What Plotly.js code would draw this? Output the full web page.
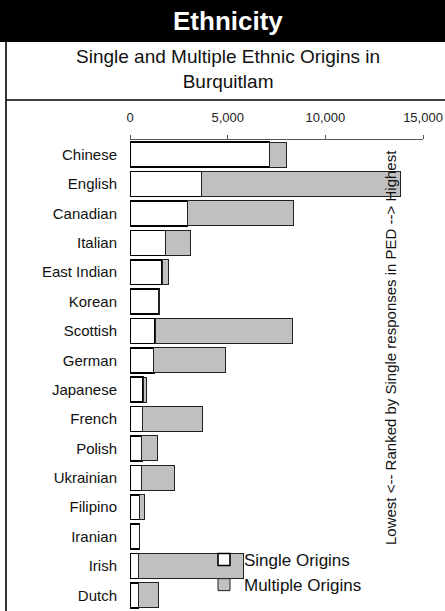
<!DOCTYPE html>
<html>
<head>
<meta charset="utf-8">
<script src="https://cdn.plot.ly/plotly-3.0.1.min.js"></script>
<style>html,body{margin:0;padding:0;background:#fff;}#chart{width:445px;height:611px;}</style>
</head>
<body>
<div id="chart"></div>
<script>
const categories = ["Chinese","English","Canadian","Italian","East Indian","Korean","Scottish","German","Japanese","French","Polish","Ukrainian","Filipino","Iranian","Irish","Dutch"];
const singleOrigins   = [7150, 3650, 2950, 1820, 1650, 1480, 1290, 1220, 680, 650, 610, 590, 500, 490, 450, 440];
const multipleOrigins = [850, 10200, 5400, 1280, 340, 15, 7040, 3660, 140, 3070, 790, 1700, 220, 20, 5370, 1030];
const tickValues = [0, 5000, 10000, 15000];
const tickLabels = ["0", "5,000", "10,000", "15,000"];
const seriesNames = ["Single Origins", "Multiple Origins"];
const titleText = "Ethnicity";
const subtitleText = "Single and Multiple Ethnic Origins in<br>Burquitlam";
const sideText = "Lowest <-- Ranked by Single responses in PED --> Highest";

const W = 445, H = 611, L = 130, R = 22, T = 140, B = 1;
const PW = W - L - R, PH = H - T - B;
const px = x => (x - L) / PW;
const py = y => (H - B - y) / PH;
const FONT = "Liberation Sans, Arial, Helvetica, sans-serif";

const traces = [
  {
    type: "bar", orientation: "h", name: seriesNames[0],
    y: categories, x: singleOrigins,
    marker: {color: "#ffffff", line: {color: "#000000", width: 1.6}},
    hoverinfo: "x+y"
  },
  {
    type: "bar", orientation: "h", name: seriesNames[1],
    y: categories, x: multipleOrigins,
    marker: {color: "#c0c0c0", line: {color: "#222222", width: 1}},
    hoverinfo: "x+y"
  }
];

const layout = {
  width: W, height: H,
  margin: {l: L, r: R, t: T, b: B, pad: 0},
  paper_bgcolor: "#ffffff", plot_bgcolor: "rgba(0,0,0,0)",
  barmode: "stack", bargap: 0.15,
  font: {family: FONT, color: "#222222", size: 15},
  showlegend: true,
  legend: {
    x: px(204), y: py(572.5), xanchor: "left", yanchor: "middle",
    bgcolor: "rgba(0,0,0,0)", borderwidth: 0, traceorder: "normal",
    font: {family: FONT, size: 17, color: "#111111"},
    itemclick: false, itemdoubleclick: false, tracegroupgap: 0
  },
  xaxis: {
    side: "top", range: [0, 15000], fixedrange: true,
    tickvals: tickValues, ticktext: tickLabels,
    ticks: "outside", ticklen: 4, tickcolor: "#555555", tickwidth: 1,
    showline: true, linecolor: "#555555", linewidth: 1.2,
    showgrid: false, zeroline: false,
    tickfont: {family: FONT, size: 13, color: "#222222"},
    ticklabelstandoff: 8
  },
  yaxis: {
    type: "category", autorange: "reversed", fixedrange: true,
    showline: false, showgrid: false, zeroline: false, ticks: "",
    tickfont: {family: FONT, size: 15, color: "#111111"},
    ticklabelstandoff: 12
  },
  shapes: [
    {type: "rect", xref: "paper", yref: "paper", x0: px(0), x1: px(W), y0: py(42), y1: py(0), fillcolor: "#000000", line: {width: 0}},
    {type: "line", xref: "paper", yref: "paper", x0: px(6), x1: px(6), y0: py(H), y1: py(42), line: {color: "#000000", width: 1.6}},
    {type: "line", xref: "paper", yref: "paper", x0: px(6), x1: px(W), y0: py(100), y1: py(100), line: {color: "#000000", width: 1.6}}
  ],
  annotations: [
    {xref: "paper", yref: "paper", x: px(228), y: py(21), xanchor: "center", yanchor: "middle", showarrow: false,
     text: "<b>" + titleText + "</b>", font: {family: FONT, size: 26, color: "#ffffff"}},
    {xref: "paper", yref: "paper", x: px(228), y: py(69), xanchor: "center", yanchor: "middle", showarrow: false,
     text: subtitleText, font: {family: FONT, size: 19, color: "#111111"}},
    {xref: "paper", yref: "paper", x: px(390), y: py(348), xanchor: "center", yanchor: "middle", showarrow: false,
     textangle: -90, text: sideText.replace(/</g, "&lt;").replace(/>/g, "&gt;"), font: {family: FONT, size: 15, color: "#111111"}}
  ]
};

Plotly.newPlot("chart", traces, layout, {displayModeBar: false, staticPlot: true});
</script>
</body>
</html>
